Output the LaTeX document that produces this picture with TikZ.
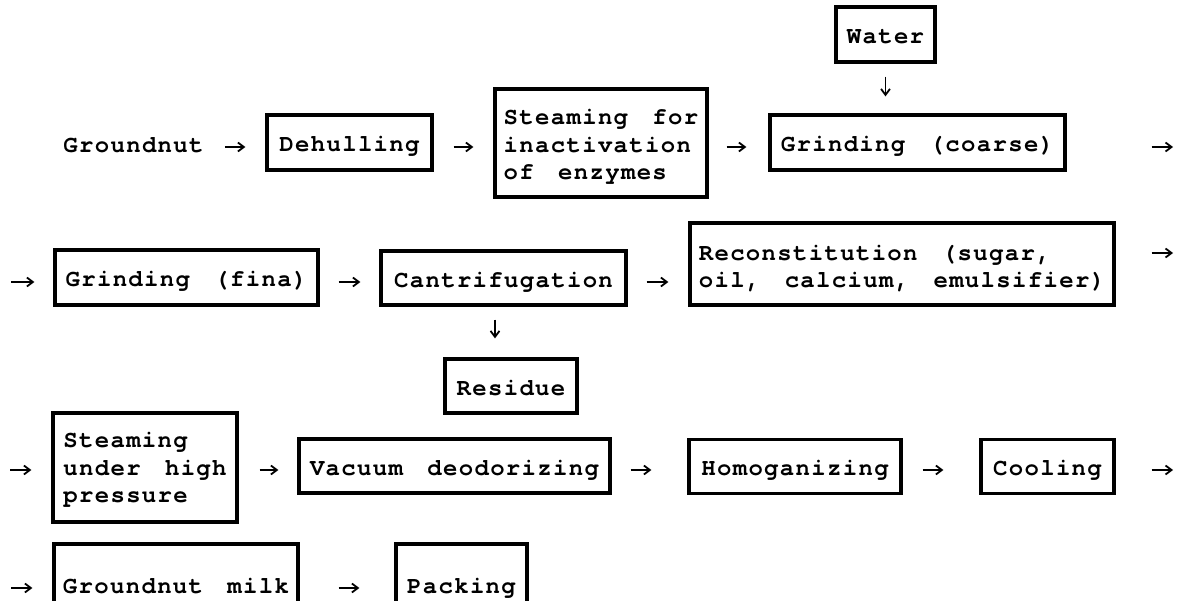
\documentclass[tikz,border=0pt]{standalone}
\usepackage{fontspec}
\newfontfamily\tw{TeX Gyre Cursor}[LetterSpace=5.5, WordSpace=1.55, Ligatures=NoCommon]
\usetikzlibrary{arrows.meta}
\begin{document}
\begin{tikzpicture}[x=1pt,y=-1pt,
  txt/.style={inner sep=0pt, align=left, font=\tw\bfseries\fontsize{24}{27.5}\selectfont},
  one/.style={text height=20pt, text depth=1pt},
  box/.style={txt, draw, line width=3.2pt},
  arr/.style={line width=1.8pt, -{Straight Barb[length=6pt,width=9pt]}}]
\useasboundingbox (0,0) rectangle (1179,601);
% row 1
\node[txt, one] (gnut) at (133.5,143) {Groundnut};
\node[box, one, minimum width=165pt, minimum height=55pt] (dehull) at (349.5,142.5) {Dehulling};
\node[box, minimum width=212pt, minimum height=108pt] (steam1) at (601,143) {\rule{0pt}{23pt}Steaming for\\inactivation\\of enzymes};
\node[box, one, minimum width=295pt, minimum height=55pt] (grindc) at (917.5,142.5) {Grinding (coarse)};
\node[box, one, minimum width=99pt, minimum height=55pt] (water) at (885.5,34.5) {Water};
% row 2
\node[box, one, minimum width=263pt, minimum height=55pt] (grindf) at (186.5,277.5) {Grinding (f{}ina)};
\node[box, one, minimum width=245pt, minimum height=54pt] (centri) at (503.5,278) {Cantrifugation};
\node[box, minimum width=424pt, minimum height=82pt] (recon) at (902,264) {\rule{0pt}{24pt}Reconstitution (sugar,\\oil, calcium, emulsif{}ier)};
\node[box, one, minimum width=132pt, minimum height=54pt] (residue) at (511,386) {Residue};
% row 3
\node[box, minimum width=184pt, minimum height=109pt] (steam2) at (145,467.5) {\rule{0pt}{20pt}Steaming\\under high\\pressure};
\node[box, one, minimum width=311pt, minimum height=54pt] (vacuum) at (454.5,466) {Vacuum deodorizing};
\node[box, one, minimum width=212pt, minimum height=54pt] (homog) at (795,466.5) {Homoganizing};
\node[box, one, minimum width=133pt, minimum height=54pt] (cooling) at (1047.5,466.5) {Cooling};
% row 4
\node[box, one, minimum width=244pt, minimum height=80pt] (gmilk) at (176,584) {Groundnut milk};
\node[box, one, minimum width=131pt, minimum height=80pt] (packing) at (461.5,584) {Packing};
% free ends
\coordinate (r1) at (1173,147);
\coordinate (l2) at (11,282);
\coordinate (r2) at (1173,253);
\coordinate (l3) at (10,470);
\coordinate (r3) at (1173,470);
\coordinate (l4) at (11,588);
% connectors
\draw[arr, shorten <=21pt, shorten >=20pt] ([yshift=-4pt]gnut.east) -- ([yshift=-4pt]gnut.east -| dehull.west);
\draw[arr, shorten <=20pt, shorten >=20pt] ([yshift=-4.5pt]dehull.east) -- ([yshift=-4.5pt]dehull.east -| steam1.west);
\draw[arr, shorten <=18pt, shorten >=22pt] ([yshift=-4pt]steam1.east) -- ([yshift=-4pt]steam1.east -| grindc.west);
\draw[arr, shorten <=85pt] (r1 -| grindc.east) -- (r1);
\draw[arr, shorten <=13pt, shorten >=17pt] (water.south) -- (water.south |- grindc.north);
\draw[arr, shorten >=19pt] (l2) -- (l2 -| grindf.west);
\draw[arr, shorten <=19pt, shorten >=19pt] ([yshift=-4.5pt]grindf.east) -- ([yshift=-4.5pt]grindf.east -| centri.west);
\draw[arr, shorten <=19pt, shorten >=20pt] ([yshift=-4pt]centri.east) -- ([yshift=-4pt]centri.east -| recon.west);
\draw[arr, shorten <=36pt] (r2 -| recon.east) -- (r2);
\draw[arr, shorten <=13pt, shorten >=19pt] ([xshift=-8.5pt]centri.south) -- ([xshift=-8.5pt]centri.south |- residue.north);
\draw[arr, shorten >=20pt] (l3) -- (l3 -| steam2.west);
\draw[arr, shorten <=21pt, shorten >=19pt] ([yshift=-2.5pt]steam2.east) -- ([yshift=-2.5pt]steam2.east -| vacuum.west);
\draw[arr, shorten <=19pt, shorten >=36pt] ([yshift=-4pt]vacuum.east) -- ([yshift=-4pt]vacuum.east -| homog.west);
\draw[arr, shorten <=20pt, shorten >=36pt] ([yshift=-3.5pt]homog.east) -- ([yshift=-3.5pt]homog.east -| cooling.west);
\draw[arr, shorten <=36pt] (r3 -| cooling.east) -- (r3);
\draw[arr, shorten >=20pt] (l4) -- (l4 -| gmilk.west);
\draw[arr, shorten <=39pt, shorten >=35pt] ([yshift=-4pt]gmilk.east) -- ([yshift=-4pt]gmilk.east -| packing.west);
\end{tikzpicture}
\end{document}
